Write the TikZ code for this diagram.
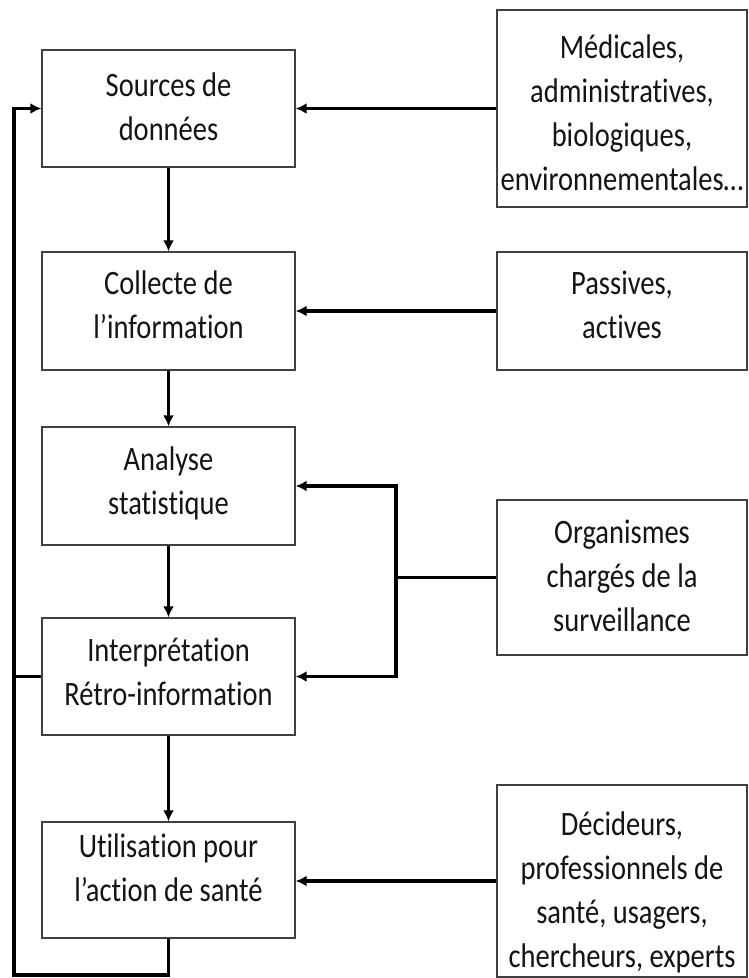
\documentclass[tikz,border=0pt]{standalone}
\usepackage{fontspec}
\setmainfont[Ligatures={NoCommon}]{Carlito}
\usetikzlibrary{arrows.meta,calc}
\newcommand{\boxtext}[1]{\scalebox{1}[1.2]{\begin{tabular}{@{}c@{}}#1\end{tabular}}}
\begin{document}
\begin{tikzpicture}[x=1pt,y=-1pt,
  box/.style={draw=black!75, line width=1.4pt, fill=white, inner sep=0pt},
  lbox/.style={box, minimum width=253pt},
  rbox/.style={box, minimum width=250pt},
  txt/.style={inner sep=0pt, font=\fontsize{28.5}{36.7}\selectfont, text=black!92},
  arr/.style={line width=3.5pt, -{Latex[length=11pt,width=11pt]}},
  ln/.style={line width=3.5pt}]
\useasboundingbox[fill=white] (0,0) rectangle (749,978);
% left column
\node[lbox, minimum height=117pt] (b1) at (168.5,108.5) {};
\node[lbox, minimum height=118pt] (b2) at (168.5,311) {};
\node[lbox, minimum height=118pt] (b3) at (168.5,486) {};
\node[lbox, minimum height=117pt] (b4) at (168.5,676.5) {};
\node[lbox, minimum height=116pt] (b5) at (168.5,880) {};
\node[txt] (t1) at (168.5,110) {\boxtext{Sources de\\données}};
\node[txt] (t2) at (168.5,308) {\boxtext{Collecte de\\l’information}};
\node[txt] (t3) at (168.5,484) {\boxtext{Analyse\\statistique}};
\node[txt] (t4) at (168.5,675) {\boxtext{Interprétation\\Rétro-information}};
\node[txt] (t5) at (168.5,871) {\boxtext{Utilisation pour\\l’action de santé}};
% right column
\node[rbox, minimum height=197pt] (r1) at (622,108.5) {};
\node[rbox, minimum height=118pt] (r2) at (622,311) {};
\node[rbox, minimum height=155pt] (r3) at (622,577.5) {};
\node[rbox, minimum height=192pt] (r4) at (622,881) {};
\node[txt] (s1) at (622,116) {\boxtext{Médicales,\\administratives,\\biologiques,\\environnementales…}};
\node[txt] (s2) at (622,308) {\boxtext{Passives,\\actives}};
\node[txt] (s3) at (622,579) {\boxtext{Organismes\\chargés de la\\surveillance}};
\node[txt] (s4) at (622,893) {\boxtext{Décideurs,\\professionnels de\\santé, usagers,\\chercheurs, experts}};
% vertical flow
\draw[arr] (b1) -- (b2);
\draw[arr] (b2) -- (b3);
\draw[arr] (b3) -- (b4);
\draw[arr] (b4) -- (b5);
% inputs from right
\draw[arr] (r1) -- (b1);
\draw[arr] (r2) -- (b2);
\coordinate (j) at (396,577.5);
\draw[ln] (r3.west) -- (j);
\draw[arr] (j) |- (b3.east);
\draw[arr] (j) |- (b4.east);
\draw[arr] (r4.west) -- (r4.west -| b5.east);
% feedback loop
\coordinate (fb) at (168.5,975);
\coordinate (fl) at (14,975);
\draw[arr] (b5.south) -- (fb) -- (fl) |- (b1.west);
\draw[ln] (b4.west) -- (b4.west -| fl);
\end{tikzpicture}
\end{document}
